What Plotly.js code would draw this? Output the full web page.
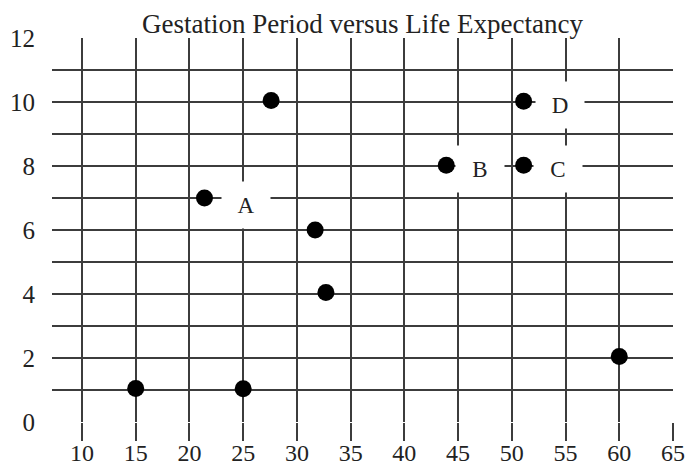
<!DOCTYPE html>
<html>
<head>
<meta charset="utf-8">
<script src="https://cdn.plot.ly/plotly-3.0.1.min.js"></script>
<style>html,body{margin:0;padding:0;background:#fff;}#chart{width:689px;height:468px;}</style>
</head>
<body>
<div id="chart"></div>
<script>
// Data
const gestation = [15, 25, 27.6, 21.4, 31.7, 32.7, 43.9, 51.1, 51.1, 60];
const lifeExpectancy = [1.05, 1.04, 10.05, 7.0, 6.0, 4.05, 8.02, 8.02, 10.02, 2.05];
const labelText = ['A', 'B', 'C', 'D'];
const labelX = [25.3, 47.0, 54.3, 54.5];
const labelY = [6.78, 7.9, 7.92, 9.92];
const xTicks = [10, 15, 20, 25, 30, 35, 40, 45, 50, 55, 60, 65];
const yTicks = [0, 2, 4, 6, 8, 10, 12];

const serif = '"Liberation Serif", "Times New Roman", serif';
const gridCol = '#3c3c3c';

const trace = {
  type: 'scatter',
  mode: 'markers',
  x: gestation,
  y: lifeExpectancy,
  marker: {color: '#000', size: 17, line: {width: 0}},
  hoverinfo: 'skip',
  cliponaxis: false
};

const annotations = labelText.map((t, i) => ({
  x: labelX[i], y: labelY[i], xref: 'x', yref: 'y',
  text: t, showarrow: false,
  font: {family: serif, size: 23, color: '#222'},
  bgcolor: '#fff', width: 46, height: 44,
  xanchor: 'center', yanchor: 'middle'
}));

const layout = {
  width: 689, height: 468,
  margin: {l: 52, r: 16, t: 38, b: 46, pad: 0},
  paper_bgcolor: '#fff', plot_bgcolor: '#fff',
  showlegend: false,
  title: {
    text: 'Gestation Period versus Life Expectancy',
    font: {family: serif, size: 27, color: '#222'},
    xref: 'paper', x: 0.5, xanchor: 'center',
    yref: 'container', y: 1 - 24 / 468, yanchor: 'middle'
  },
  xaxis: {
    range: [7.21, 65],
    tickmode: 'array', tickvals: xTicks, ticktext: xTicks.map(String),
    showgrid: true, gridcolor: gridCol, gridwidth: 2,
    zeroline: false, showline: false,
    ticks: 'outside', ticklen: 18, tickwidth: 2, tickcolor: gridCol,
    ticklabelstandoff: -9,
    tickfont: {family: serif, size: 24, color: '#222'},
    fixedrange: true
  },
  yaxis: {
    range: [0, 12],
    tickmode: 'array', tickvals: yTicks, ticktext: yTicks.map(String),
    showgrid: true, gridcolor: gridCol, gridwidth: 2,
    minor: {dtick: 1, tick0: 0, showgrid: true, gridcolor: gridCol, gridwidth: 2, ticks: ''},
    zeroline: false, showline: false,
    ticks: '', ticklabelstandoff: 16,
    tickfont: {family: serif, size: 25, color: '#222'},
    fixedrange: true
  },
  annotations: annotations
};

Plotly.newPlot('chart', [trace], layout, {displayModeBar: false, staticPlot: true});
</script>
</body>
</html>
